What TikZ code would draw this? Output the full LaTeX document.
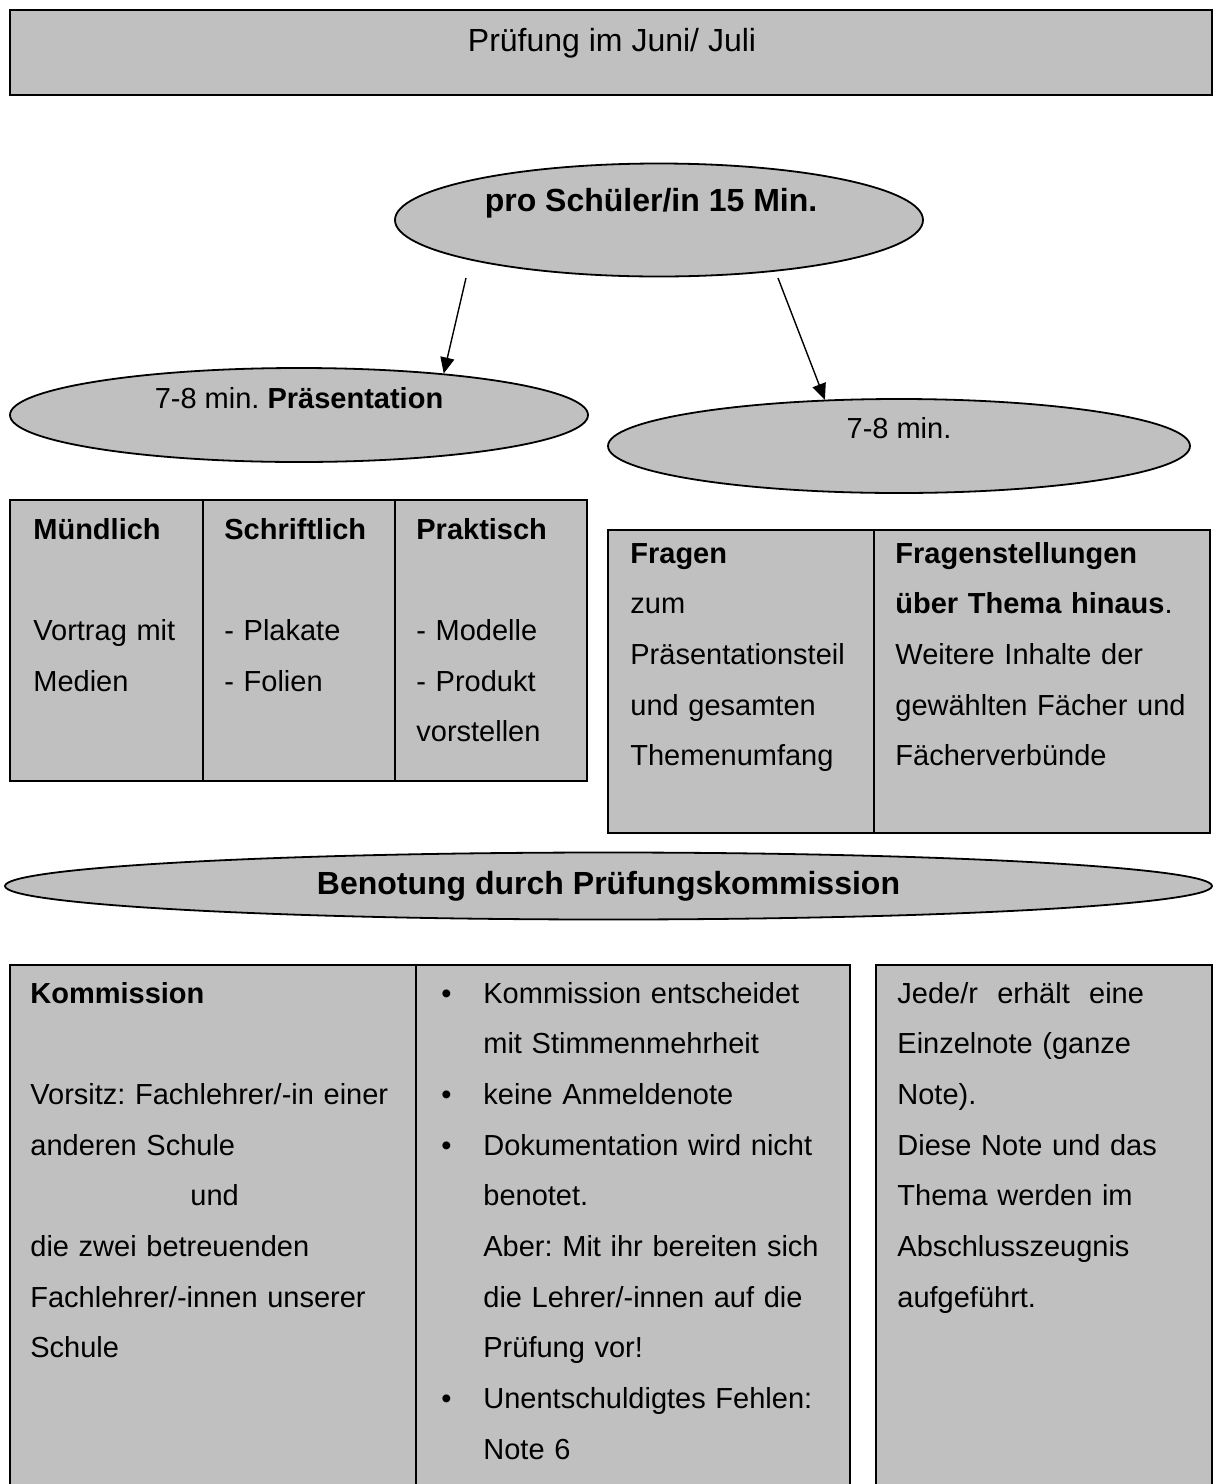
\documentclass[tikz,border=0pt]{standalone}
\usepackage{fontspec}
\setmainfont{Liberation Sans}
\usepackage{tikz}
\usetikzlibrary{shapes.geometric}
\usetikzlibrary{arrows.meta}
\frenchspacing
\definecolor{boxgray}{RGB}{192,192,192}
\newcommand{\punkt}{\makebox[21pt][l]{\textbullet}}
\newcommand{\weiter}{\hspace*{21pt}}
\tikzset{
  box/.style={draw,fill=boxgray,line width=1pt},
  trenner/.style={line width=0.8pt},
  oval/.style={
    ellipse,
    draw,
    fill=boxgray,
    line width=0.9pt,
    inner sep=0pt,
  },
  cell/.style={
    anchor=base west,
    align=left,
    inner sep=0pt,
    font=\fontsize{14.5pt}{25.35pt}\selectfont,
  },
  ovaltext/.style={font=\fontsize{14.5pt}{17pt}\selectfont},
  pfeil/.style={-{Triangle[length=8pt,width=7pt]},line width=0.7pt},
}

\begin{document}
\begin{tikzpicture}[x=0.5pt,y=-0.5pt]
  \useasboundingbox (0,0) rectangle (1214,1484);

  \draw[box] (10,10) rectangle (1212,95);
  \node[anchor=base,inner sep=0pt,font=\fontsize{16pt}{19pt}\selectfont]
  (titel) at (612,51) {Prüfung im Juni/ Juli};

  \node[oval,minimum width=264pt,minimum height=56.5pt,
  label={[name=zeittext,yshift=8.5pt,xshift=-4pt,
      font=\fontsize{16pt}{19pt}\selectfont\bfseries]center:pro Schüler/in 15 Min.}]
  (zeit) at (659,220) {};

  \node[oval,minimum width=289pt,minimum height=47pt,
  label={[name=praestext,yshift=8.5pt,ovaltext]center:7-8 min. \textbf{Präsentation}}]
  (praes) at (299,415) {};
  \node[oval,minimum width=291pt,minimum height=47pt,
  label={[name=resttext,yshift=9pt,ovaltext]center:7-8 min.}]
  (rest) at (899,446) {};

  \coordinate (links) at (466,278);
  \coordinate (rechts) at (778,278);
  \draw[pfeil] (links) -- (praes.16);
  \draw[pfeil] (rechts) -- (rest.148);

  \draw[box] (10,500) rectangle (587,781);
  \draw[trenner] (203,500) -- (203,781) (395,500) -- (395,781);
  \node[cell,text width=85pt] (muendlich) at (33,539)
  {\textbf{Mündlich}\\[25.35pt]Vortrag mit\\Medien};
  \node[cell,text width=85pt] (schriftlich) at (224,539)
  {\textbf{Schriftlich}\\[25.35pt]- Plakate\\- Folien};
  \node[cell,text width=85pt] (praktisch) at (416,539)
  {\textbf{Praktisch}\\[25.35pt]- Modelle\\- Produkt\\vorstellen};

  \draw[box] (608,530) rectangle (1210,833);
  \draw[trenner] (874,530) -- (874,833);
  \node[cell,text width=125pt] (fragen) at (630,563)
  {\textbf{Fragen}\\zum\\Präsentationsteil\\und gesamten\\Themenumfang};
  \node[cell,text width=155pt] (fragenst) at (895,563)
  {\textbf{Fragenstellungen}\\\textbf{über Thema hinaus}.\\Weitere Inhalte der\\
    gewählten Fächer und\\Fächerverbünde};

  \node[oval,minimum width=603.5pt,minimum height=33.5pt,
  font=\fontsize{16pt}{19pt}\selectfont\bfseries]
  (benotung) at (608.5,886) {Benotung durch Prüfungskommission};

  \draw[box] (10,965) rectangle (850,1495);
  \draw[trenner] (416,965) -- (416,1495);
  \node[cell,text width=190pt] (kommission) at (30,1003)
  {\textbf{Kommission}\\[25.35pt]Vorsitz: Fachlehrer/-in einer\\anderen Schule\\
    \hspace*{80pt}und\\die zwei betreuenden\\Fachlehrer/-innen unserer\\Schule};
  \node[cell,text width=205pt] (regeln) at (441,1003)
  {\punkt Kommission entscheidet\\\weiter mit Stimmenmehrheit\\
    \punkt keine Anmeldenote\\\punkt Dokumentation wird nicht\\\weiter benotet.\\
    \weiter Aber: Mit ihr bereiten sich\\\weiter die Lehrer/-innen auf die\\
    \weiter Prüfung vor!\\\punkt Unentschuldigtes Fehlen:\\\weiter Note 6};

  \draw[box] (876,965) rectangle (1212,1495);
  \node[cell,text width=155pt] (einzelnote) at (897,1003)
  {Jede/r~ erhält~ eine\\Einzelnote (ganze\\Note).\\Diese Note und das\\
    Thema werden im\\Abschlusszeugnis\\aufgeführt.};
\end{tikzpicture}
\end{document}
